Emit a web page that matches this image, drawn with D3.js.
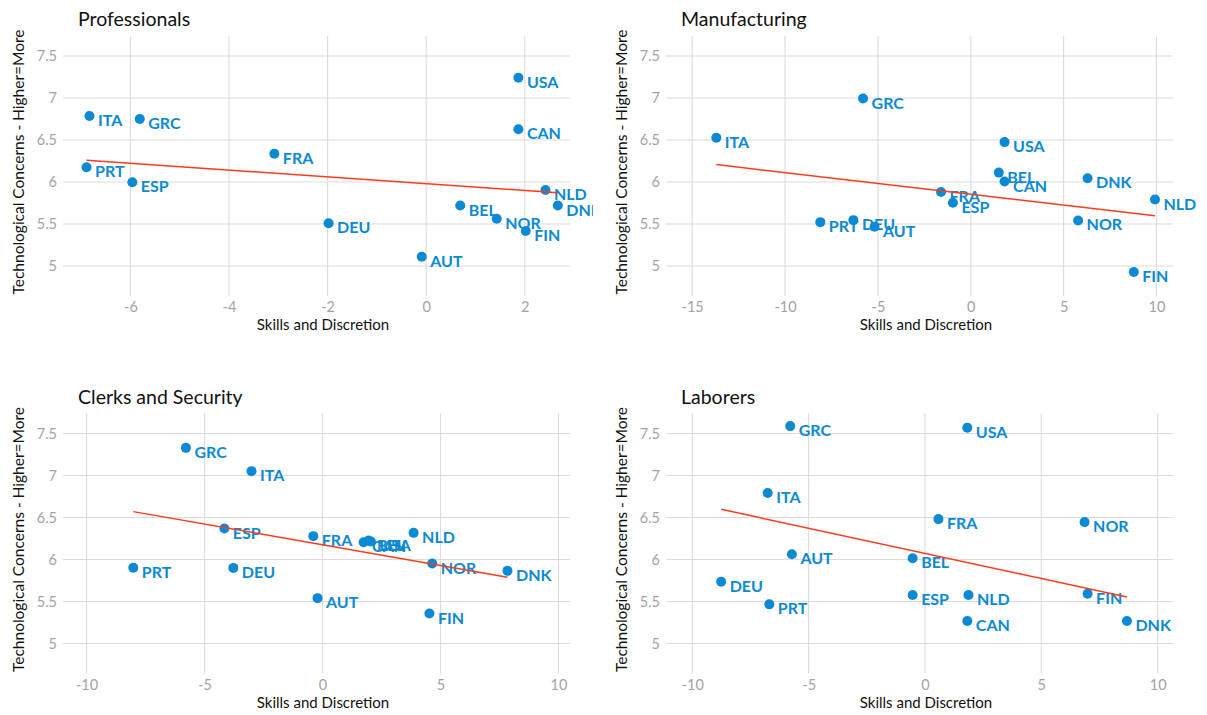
<!DOCTYPE html>
<html>
<head>
<meta charset="utf-8">
<script src="https://cdn.jsdelivr.net/npm/d3@7"></script>
<style>
  html, body { margin: 0; padding: 0; background: #ffffff; }
  svg { display: block; font-family: Lato, "Open Sans", sans-serif; }
</style>
</head>
<body>
<svg id="chart" width="1207" height="715"></svg>
<script>
// Country codes, shared by all four occupation groups
const countries = ["AUT","BEL","CAN","DEU","DNK","ESP","FIN","FRA","GRC","ITA","NLD","NOR","PRT","USA"];

// Skills and discretion score (x) and technological concerns (y), per group
const profSkills   = [-0.09, 0.69, 1.87, -1.98, 2.67, -5.96, 2.02, -3.08, -5.81, -6.83, 2.42, 1.43, -6.89, 1.87];
const profConcern  = [5.11, 5.72, 6.627, 5.508, 5.72, 5.996, 5.417, 6.337, 6.75, 6.786, 5.905, 5.563, 6.175, 7.24];

const manuSkills   = [-5.18, 1.51, 1.82, -6.32, 6.29, -0.96, 8.78, -1.60, -5.80, -13.70, 9.92, 5.78, -8.10, 1.82];
const manuConcern  = [5.467, 6.112, 6.005, 5.546, 6.044, 5.752, 4.929, 5.882, 6.994, 6.527, 5.791, 5.542, 5.522, 6.475];

const clerkSkills  = [-0.21, 1.95, 1.74, -3.78, 7.84, -4.16, 4.53, -0.39, -5.79, -3.01, 3.86, 4.65, -8.02, 2.05];
const clerkConcern = [5.54, 6.225, 6.205, 5.90, 5.865, 6.369, 5.357, 6.278, 7.329, 7.052, 6.317, 5.952, 5.901, 6.215];

const laborSkills  = [-5.72, -0.53, 1.82, -8.76, 8.68, -0.53, 6.99, 0.58, -5.79, -6.76, 1.87, 6.86, -6.69, 1.82];
const laborConcern = [6.063, 6.015, 5.267, 5.736, 5.267, 5.577, 5.593, 6.481, 7.588, 6.791, 5.577, 6.445, 5.466, 7.568];

// Fitted linear trend: concern value at the lowest and highest skills score
const profTrend  = [6.258, 5.873];
const manuTrend  = [6.207, 5.599];
const clerkTrend = [6.570, 5.790];
const laborTrend = [6.597, 5.554];

// Axis ticks
const yTicks = [5, 5.5, 6, 6.5, 7, 7.5];
const profXTicks  = [-6, -4, -2, 0, 2];
const manuXTicks  = [-15, -10, -5, 0, 5, 10];
const wideXTicks  = [-10, -5, 0, 5, 10];

const xTitle = "Skills and Discretion";
const yTitle = "Technological Concerns - Higher=More";

const panels = [
  { title: "Professionals",       xs: profSkills,  ys: profConcern,  trend: profTrend,  xDomain: [-7.367, 2.917], xTicks: profXTicks, col: 0, row: 0 },
  { title: "Manufacturing",       xs: manuSkills,  ys: manuConcern,  trend: manuTrend,  xDomain: [-16.41, 10.89], xTicks: manuXTicks, col: 1, row: 0 },
  { title: "Clerks and Security", xs: clerkSkills, ys: clerkConcern, trend: clerkTrend, xDomain: [-11.0, 10.49],  xTicks: wideXTicks, col: 0, row: 1 },
  { title: "Laborers",            xs: laborSkills, ys: laborConcern, trend: laborTrend, xDomain: [-11.13, 10.66], xTicks: wideXTicks, col: 1, row: 1 }
];

// Layout
const colX = [0, 603];
const rowY = [0, 377.5];
const plot = { left: 63, right: 570, top: 36, bottom: 296 };
const yDomain = [4.643, 7.738];

const pointColor = "#0b8ad3";
const lineColor  = "#ff3b1c";
const gridColor  = "#dcdcdc";
const tickColor  = "#a3a3a3";

const svg = d3.select("#chart");
const defs = svg.append("defs");

panels.forEach((p, idx) => {
  const ox = colX[p.col], oy = rowY[p.row];
  const cellW = p.col === 0 ? 593 : 1207 - ox;

  defs.append("clipPath").attr("id", "clip" + idx)
    .append("rect").attr("x", 0).attr("y", 0).attr("width", cellW).attr("height", 378);

  const g = svg.append("g").attr("transform", `translate(${ox},${oy})`);

  const x = d3.scaleLinear().domain(p.xDomain).range([plot.left, plot.right]);
  const y = d3.scaleLinear().domain(yDomain).range([plot.bottom, plot.top]);

  // Grid
  const grid = g.append("g");
  grid.selectAll("line.h").data(yTicks).join("line")
    .attr("x1", plot.left).attr("x2", plot.right)
    .attr("y1", d => y(d)).attr("y2", d => y(d))
    .attr("stroke", gridColor).attr("stroke-width", 1.1);
  grid.selectAll("line.v").data(p.xTicks).join("line")
    .attr("y1", plot.top).attr("y2", plot.bottom)
    .attr("x1", d => x(d)).attr("x2", d => x(d))
    .attr("stroke", gridColor).attr("stroke-width", 1.1);

  // Axes (labels only; lines come from the grid)
  const yAxis = g.append("g").attr("transform", `translate(${plot.left},0)`)
    .call(d3.axisLeft(y).tickValues(yTicks).tickSize(0).tickPadding(6).tickFormat(d3.format("")));
  const xAxis = g.append("g").attr("transform", `translate(0,${plot.bottom})`)
    .call(d3.axisBottom(x).tickValues(p.xTicks).tickSize(0).tickPadding(6).tickFormat(d => String(d)));
  [yAxis, xAxis].forEach(a => {
    a.select(".domain").remove();
    a.selectAll("text").attr("fill", tickColor).style("font-size", "14.5px").style("font-family", "Lato, sans-serif");
  });

  // Titles
  g.append("text").attr("x", 78).attr("y", 26)
    .attr("font-size", 19.5).attr("fill", "#111").text(p.title);
  g.append("text").attr("x", 323).attr("y", 330).attr("text-anchor", "middle")
    .attr("font-size", 15).attr("fill", "#111").text(xTitle);
  g.append("text").attr("transform", `translate(24,${(plot.top + plot.bottom) / 2 - 4}) rotate(-90)`)
    .attr("text-anchor", "middle").attr("font-size", 15.5).attr("fill", "#111").text(yTitle);

  const rows = countries.map((c, i) => ({ c, xv: p.xs[i], yv: p.ys[i] }));
  const marks = g.append("g").attr("clip-path", `url(#clip${idx})`);

  marks.selectAll("circle").data(rows).join("circle")
    .attr("cx", d => x(d.xv)).attr("cy", d => y(d.yv)).attr("r", 5)
    .attr("fill", pointColor);

  marks.selectAll("text.lab").data(rows).join("text")
    .attr("class", "lab")
    .attr("x", d => x(d.xv) + 8.5).attr("y", d => y(d.yv) + 10)
    .attr("font-size", 16).attr("font-weight", 700).attr("fill", pointColor)
    .text(d => d.c);

  // Trend line across the range of skills scores
  const [xMin, xMax] = d3.extent(p.xs);
  const trendPts = [[xMin, p.trend[0]], [xMax, p.trend[1]]];
  marks.append("path")
    .attr("d", d3.line().x(d => x(d[0])).y(d => y(d[1]))(trendPts))
    .attr("fill", "none").attr("stroke", lineColor).attr("stroke-width", 1.5);
});
</script>
</body>
</html>
